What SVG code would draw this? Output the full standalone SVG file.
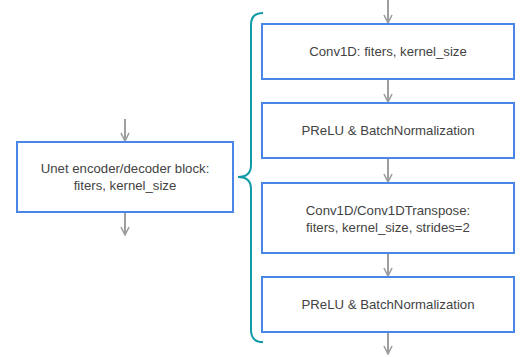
<svg xmlns="http://www.w3.org/2000/svg" width="520" height="357" viewBox="0 0 520 357">
<defs>
<marker id="ah" markerWidth="10" markerHeight="10" refX="9" refY="5" orient="auto" markerUnits="userSpaceOnUse">
<path d="M1,1 L9,5 L1,9" fill="none" stroke="#9e9e9e" stroke-width="1.6"/>
</marker>
<style>
.box{fill:#fff;stroke:#4a86e8;stroke-width:2}
.t{font-family:"Liberation Sans",Arial,sans-serif;font-size:13.2px;fill:#434343;text-anchor:middle}
.c{stroke:#9e9e9e;stroke-width:2;fill:none;marker-end:url(#ah)}
</style>
</defs>
<rect width="520" height="357" fill="#fff"/>
<g id="connectors">
<line class="c" x1="125" y1="119" x2="125" y2="141"/>
<line class="c" x1="125" y1="213" x2="125" y2="235"/>
<line class="c" x1="388" y1="0" x2="388" y2="23"/>
<line class="c" x1="388" y1="80" x2="388" y2="102"/>
<line class="c" x1="388" y1="159" x2="388" y2="182"/>
<line class="c" x1="388" y1="254" x2="388" y2="276"/>
<line class="c" x1="388" y1="333" x2="388" y2="354"/>
</g>
<g id="brace">
<path d="M263,13 Q251,13 251,25 L251,165 Q251,177 238,177 Q251,177 251,189 L251,330 Q251,342 263,342" fill="none" stroke="#0f9ba8" stroke-width="2"/>
</g>
<g id="unet">
<rect class="box" x="17" y="142" width="216" height="70"/>
<text class="t" x="125" y="172.5">Unet encoder/decoder block:</text>
<text class="t" x="125" y="189.5">fiters, kernel_size</text>
</g>
<g id="conv1">
<rect class="box" x="262" y="24" width="252" height="55"/>
<text class="t" x="388" y="56">Conv1D: fiters, kernel_size</text>
</g>
<g id="prelu1">
<rect class="box" x="262" y="103" width="252" height="55"/>
<text class="t" x="388" y="135">PReLU &amp; BatchNormalization</text>
</g>
<g id="conv2">
<rect class="box" x="262" y="183" width="252" height="70"/>
<text class="t" x="388" y="214.5">Conv1D/Conv1DTranspose:</text>
<text class="t" x="388" y="231.5">fiters, kernel_size, strides=2</text>
</g>
<g id="prelu2">
<rect class="box" x="262" y="277" width="252" height="55"/>
<text class="t" x="388" y="309">PReLU &amp; BatchNormalization</text>
</g>
</svg>
